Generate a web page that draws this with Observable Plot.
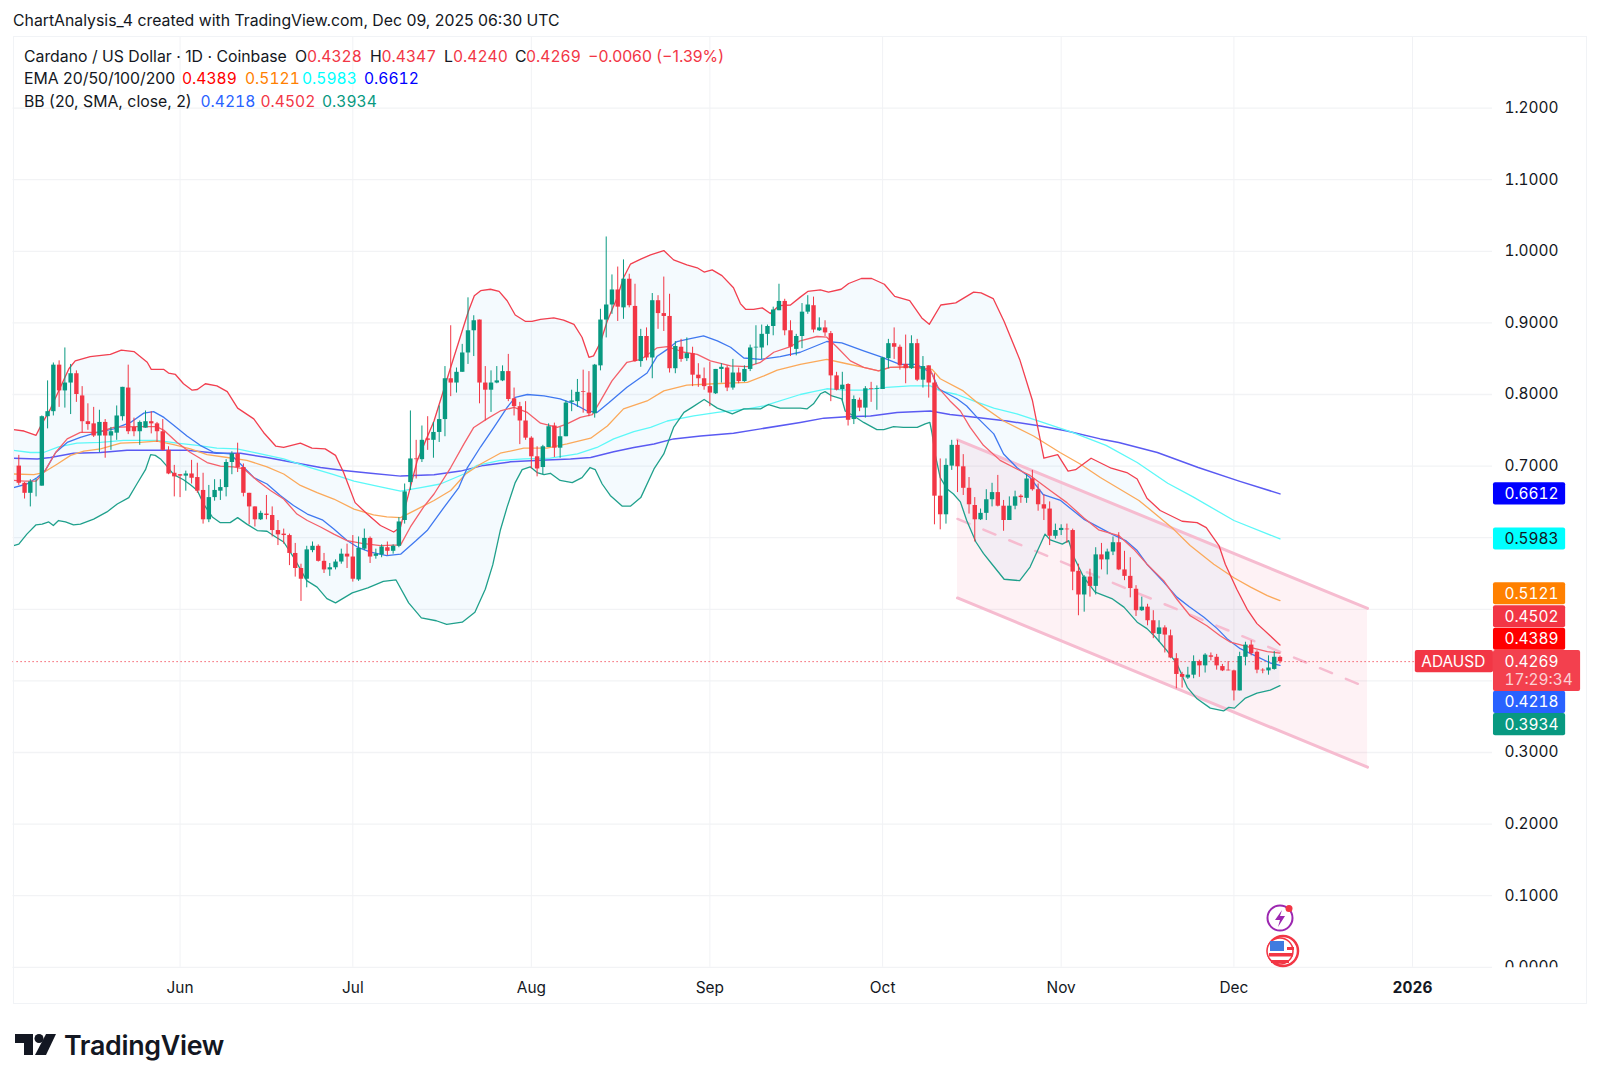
<!DOCTYPE html>
<html><head><meta charset="utf-8">
<script src="https://cdn.jsdelivr.net/npm/d3@7"></script>
<script src="https://cdn.jsdelivr.net/npm/@observablehq/plot@0.6"></script>
<style>
html,body{margin:0;padding:0;background:#fff;}
body{width:1600px;height:1084px;position:relative;overflow:hidden;font-family:Inter,"Noto Sans",sans-serif;color:#131722;}
.t{position:absolute;white-space:nowrap;font-size:15.8px;line-height:20px;}
.n{font-variant-numeric:tabular-nums;font-size:15.6px;}
#chart{position:absolute;left:0;top:36px;}
#pane{position:absolute;left:12.5px;top:35.8px;width:1574.5px;height:968px;border:1px solid #f1f3f6;box-sizing:border-box;pointer-events:none;}
</style></head><body>
<div id="chart"></div>
<div id="pane"></div>
<div id="texts"></div>
<svg style="position:absolute;left:1260px;top:900px" width="50" height="70" viewBox="0 0 50 70">
  <circle cx="20" cy="18" r="12.5" fill="#fff" stroke="#9c27b0" stroke-width="2"/>
  <path d="M22 10 L15 20 H20 L18 27 L25 16 H20 Z" fill="#9c27b0"/>
  <circle cx="29" cy="8.500" r="3.500" fill="#f23645"/>
  <circle cx="23" cy="51" r="15" fill="#fff" stroke="#f23645" stroke-width="2.500"/>
  <circle cx="20" cy="51" r="13" fill="#fff" stroke="#f23645" stroke-width="1.500"/>
  <path d="M9 53h24v3.500H9zM11 60h18v3H11z" fill="#f23645"/>
  <path d="M27 47h7v3h-7z" fill="#f23645"/>
  <rect x="10" y="41" width="14" height="10" fill="#3f7be0"/>
</svg>
<svg style="position:absolute;left:15px;top:1033px" width="42" height="23" viewBox="0 0 42 23">
  <path d="M0 1H18V22H9V10H0Z" fill="#131722"/>
  <circle cx="24" cy="5.500" r="4.500" fill="#131722"/>
  <path d="M31 1H41L31 22H20Z" fill="#131722"/>
</svg>
<script>
const opens = [
.700,.676,.662,.672,.672,.769,.776,.841,.805,.816,
.829,.798,.762,.759,.742,.761,.742,.746,.769,.809,
.754,.748,.753,.762,.759,.748,.722,.690,.688,.686,
.689,.684,.666,.625,.656,.665,.670,.705,.717,.698,
.662,.643,.625,.633,.631,.610,.605,.603,.578,.557,
.542,.582,.588,.567,.555,.558,.566,.577,.573,.541,
.584,.599,.574,.576,.586,.581,.588,.624,.677,.710,
.709,.738,.736,.747,.765,.822,.816,.831,.858,.889,
.904,.816,.806,.816,.819,.832,.794,.783,.763,.739,
.713,.698,.726,.756,.725,.741,.789,.790,.804,.802,
.773,.840,.904,.925,.946,.921,.961,.923,.846,.881,
.851,.931,.913,.909,.836,.866,.850,.857,.827,.822,
.811,.801,.835,.837,.809,.830,.818,.835,.865,.865,
.884,.895,.917,.930,.889,.863,.881,.915,.924,.889,
.893,.885,.826,.807,.814,.765,.792,.781,.808,.807,
.807,.850,.871,.866,.842,.836,.871,.820,.840,.816,
.658,.632,.700,.729,.699,.669,.645,.625,.634,.653,
.663,.644,.624,.644,.658,.655,.682,.667,.646,.640,
.602,.610,.612,.610,.553,.520,.545,.532,.576,.569,
.580,.593,.555,.546,.528,.498,.503,.484,.465,.474,
.463,.431,.409,.404,.408,.427,.421,.435,.433,.420,
.415,.414,.386,.433,.450,.440,.415,.414,.416,.4328];
const highs = [
.715,.677,.681,.682,.770,.819,.844,.847,.865,.842,
.833,.811,.787,.782,.778,.765,.754,.784,.810,.841,
.767,.763,.777,.776,.761,.765,.727,.701,.688,.693,
.708,.704,.690,.673,.681,.681,.709,.720,.732,.703,
.662,.643,.637,.659,.643,.624,.612,.605,.592,.563,
.588,.594,.590,.578,.564,.569,.584,.591,.603,.601,
.612,.601,.584,.590,.594,.590,.628,.675,.777,.736,
.756,.769,.761,.784,.839,.896,.837,.870,.935,.910,
.904,.839,.833,.839,.840,.856,.809,.789,.790,.741,
.727,.729,.759,.760,.754,.791,.806,.821,.834,.832,
.842,.919,1.020,.967,.978,.988,.968,.954,.891,.893,
.941,.938,.964,.940,.874,.877,.879,.866,.843,.837,
.845,.835,.843,.840,.849,.837,.840,.869,.896,.897,
.897,.922,.954,.933,.903,.884,.927,.938,.936,.907,
.903,.888,.831,.831,.815,.798,.795,.811,.817,.812,
.852,.877,.893,.869,.883,.882,.877,.853,.840,.829,
.710,.710,.736,.736,.716,.684,.656,.640,.667,.676,
.687,.652,.657,.665,.660,.688,.694,.675,.660,.650,
.619,.618,.619,.612,.563,.547,.556,.586,.592,.584,
.601,.607,.581,.572,.533,.517,.507,.498,.484,.477,
.471,.438,.412,.419,.435,.429,.438,.439,.437,.423,
.427,.415,.440,.454,.456,.442,.417,.435,.441,.4347];
const lows = [
.673,.654,.643,.657,.672,.752,.770,.782,.781,.772,
.789,.746,.750,.740,.719,.711,.722,.736,.763,.744,
.741,.729,.753,.745,.733,.721,.688,.657,.656,.665,
.675,.662,.619,.621,.651,.652,.657,.688,.691,.657,
.618,.615,.624,.625,.601,.589,.591,.561,.545,.511,
.530,.579,.566,.550,.546,.555,.563,.557,.538,.539,
.582,.564,.570,.572,.575,.577,.586,.619,.666,.682,
.705,.722,.711,.733,.741,.797,.802,.831,.842,.853,
.787,.763,.775,.815,.818,.790,.770,.730,.736,.696,
.685,.688,.726,.712,.711,.741,.776,.782,.774,.769,
.767,.833,.879,.912,.902,.905,.921,.845,.838,.847,
.822,.891,.888,.830,.829,.845,.846,.811,.810,.806,
.783,.800,.816,.804,.806,.815,.817,.832,.842,.849,
.868,.882,.917,.882,.853,.854,.864,.912,.886,.888,
.881,.790,.805,.791,.756,.758,.776,.767,.789,.778,
.807,.836,.849,.834,.815,.835,.818,.809,.795,.618,
.611,.619,.694,.663,.659,.633,.594,.624,.624,.643,
.643,.609,.624,.639,.648,.648,.665,.637,.624,.589,
.598,.603,.592,.526,.491,.496,.517,.520,.555,.548,
.575,.554,.540,.516,.490,.497,.477,.459,.454,.439,
.431,.389,.390,.402,.403,.405,.411,.428,.415,.413,
.414,.372,.386,.421,.435,.410,.410,.408,.415,.4240];
const closes = [
.676,.662,.678,.672,.769,.776,.841,.805,.816,.829,
.800,.762,.758,.742,.761,.742,.748,.770,.810,.748,
.748,.761,.762,.759,.748,.722,.689,.685,.686,.689,
.683,.665,.625,.656,.666,.670,.705,.717,.698,.662,
.643,.625,.634,.631,.610,.604,.603,.578,.557,.542,
.583,.588,.567,.555,.558,.566,.577,.573,.542,.585,
.599,.573,.577,.587,.581,.588,.622,.664,.710,.709,
.736,.736,.747,.765,.822,.816,.831,.858,.889,.903,
.816,.806,.816,.819,.832,.793,.783,.763,.739,.713,
.696,.727,.755,.725,.741,.788,.791,.803,.803,.773,
.841,.904,.925,.946,.922,.961,.924,.846,.881,.851,
.931,.913,.909,.836,.867,.849,.857,.827,.822,.811,
.802,.835,.838,.809,.830,.818,.835,.865,.866,.884,
.895,.918,.930,.889,.866,.881,.915,.925,.890,.893,
.886,.826,.806,.813,.764,.793,.781,.808,.807,.808,
.851,.871,.866,.840,.836,.871,.820,.839,.816,.658,
.632,.701,.729,.699,.669,.646,.625,.634,.653,.663,
.644,.624,.644,.657,.656,.682,.667,.646,.640,.602,
.610,.613,.611,.552,.520,.545,.532,.576,.569,.580,
.593,.555,.546,.529,.498,.503,.484,.466,.474,.464,
.432,.409,.405,.408,.427,.421,.436,.433,.421,.414,
.414,.386,.434,.450,.438,.415,.414,.418,.433,.4269];

// Indicator vertices: [days since 4 May 2025, price]
const bbUpper = [[-.9,.751],[.9,.749],[3,.743],[4,.759],[5.5,.780],[8.7,.836],[9.8,.847],[12.4,.853],[15.9,.856],[17.8,.862],[20,.860],[22.3,.845],[23,.835],[25.2,.835],[26,.830],[27.2,.828],[28.6,.815],[30.1,.806],[31,.807],[32.4,.815],[34.4,.812],[36.2,.804],[38,.781],[40.8,.766],[42.5,.747],[44.6,.728],[46,.726],[48.9,.732],[50.9,.725],[53.2,.724],[55,.715],[56.4,.691],[58.4,.649],[60.5,.633],[62.8,.617],[65.1,.608],[66.3,.615],[67.4,.652],[69.2,.708],[72.1,.763],[75,.838],[77,.889],[78.1,.917],[79.1,.938],[80.2,.945],[81.9,.947],[83.4,.944],[84.8,.931],[86.2,.911],[88,.902],[89.1,.902],[90.6,.905],[92.9,.907],[94.6,.904],[96.4,.898],[97.8,.880],[99,.852],[99.8,.854],[101,.873],[102.2,.903],[103.9,.935],[105,.963],[106.2,.982],[108,.989],[109.7,.995],[112,1.001],[113.7,.988],[116,.981],[117.8,.977],[119,.971],[120.4,.974],[122.1,.966],[124.1,.949],[125.3,.927],[126.2,.919],[127.6,.919],[129.1,.921],[130.5,.913],[132,.924],[134,.925],[135.7,.936],[137,.944],[139.2,.946],[140.6,.943],[142.8,.947],[144.1,.955],[146.3,.962],[148.1,.962],[150.3,.954],[152.1,.937],[154.7,.931],[156.8,.907],[158.1,.898],[160.1,.925],[162.7,.928],[165.8,.943],[167.1,.942],[169.2,.934],[171.1,.902],[173.8,.849],[176,.792],[178,.711],[180.4,.716],[182.2,.693],[183.5,.695],[186.2,.711],[189.7,.697],[192.4,.691],[194.2,.682],[195.9,.655],[198.2,.638],[202,.623],[204.6,.621],[206.2,.614],[208.4,.589],[209.5,.563],[211.5,.528],[213.3,.500],[215,.480],[217.3,.463],[219,.4502]];
const bbLower = [[-.9,.589],[0,.591],[1.4,.605],[3,.618],[4.05,.619],[5.2,.622],[6,.617],[6.9,.624],[8.1,.622],[9.5,.618],[10.7,.619],[13,.626],[15.3,.636],[17.1,.647],[19.1,.656],[20.5,.675],[22,.695],[22.9,.716],[23.7,.715],[24.6,.710],[25.6,.701],[26.9,.688],[28.6,.681],[29.8,.674],[31,.666],[32.1,.647],[33.6,.629],[35,.621],[36.7,.621],[38,.628],[39.6,.619],[41.4,.610],[43.1,.609],[44.6,.601],[46,.594],[47.7,.573],[50,.540],[51.8,.531],[53.5,.515],[55,.509],[57.9,.523],[60.6,.530],[63.3,.539],[65.5,.541],[67.7,.509],[69.9,.488],[72.5,.484],[74.3,.479],[77,.482],[79.2,.496],[81,.528],[82.3,.562],[83.6,.610],[84.8,.643],[86.2,.677],[87.4,.695],[88.8,.699],[90,.691],[91.2,.688],[92.3,.690],[94,.680],[96.1,.677],[97.8,.684],[99.2,.698],[100.1,.695],[101.3,.675],[102.7,.659],[104.8,.644],[106.2,.644],[108,.656],[110.3,.696],[112,.717],[113.7,.754],[115.5,.775],[116.9,.782],[119,.793],[121.3,.781],[123.9,.773],[125.9,.780],[128.8,.780],[130.2,.786],[132.2,.781],[135.7,.781],[136.9,.780],[138,.787],[139.2,.801],[140,.804],[141.2,.798],[142.9,.794],[143.5,.777],[145,.770],[146.7,.761],[149,.751],[150.2,.751],[151.9,.755],[153.6,.754],[156,.754],[157.4,.759],[158.2,.761],[158.6,.745],[159.1,.717],[160,.684],[161.2,.668],[162.3,.661],[163.5,.650],[164.6,.624],[166.2,.594],[167.5,.578],[168.9,.564],[171.1,.542],[173.8,.540],[175.6,.559],[177.4,.591],[178.2,.605],[179.1,.597],[181.2,.591],[182.3,.596],[183.2,.573],[184.9,.545],[186.9,.524],[189.8,.515],[191.9,.503],[194.2,.482],[195.9,.473],[197.4,.461],[199.4,.442],[201.1,.424],[202.9,.391],[204.6,.375],[206.9,.362],[209.2,.358],[210.1,.363],[211.1,.362],[213,.376],[215,.383],[217.3,.387],[219,.3934]];
const bbBasis = [[-.9,.670],[1.4,.675],[3.2,.684],[4.6,.694],[6.4,.719],[8.4,.733],[10.7,.740],[13.6,.747],[16.5,.752],[19.4,.761],[21.7,.774],[23.4,.776],[25.2,.768],[26.9,.757],[29.2,.742],[31.5,.729],[33.9,.719],[36.7,.717],[38.5,.703],[40.8,.684],[43.1,.675],[45.4,.659],[47.7,.645],[50.1,.633],[52.7,.625],[54.7,.612],[57,.596],[59,.586],[61.1,.580],[63.9,.575],[66.3,.577],[69,.596],[70.9,.610],[73.8,.642],[76.4,.670],[77.9,.698],[80.2,.727],[82.5,.754],[84.8,.782],[86.2,.796],[88.3,.800],[91.2,.798],[94,.794],[96.4,.787],[98.7,.777],[100.4,.775],[102.4,.788],[105.6,.810],[109.1,.830],[110.8,.853],[112.6,.863],[114.3,.874],[116,.877],[118.9,.882],[121.3,.875],[123.6,.866],[125.9,.851],[128.8,.849],[132.2,.853],[135.7,.859],[140.3,.874],[142.9,.872],[146.7,.861],[149.6,.853],[153,.842],[155.9,.842],[158.6,.829],[159.7,.808],[162.9,.794],[164.6,.784],[166.4,.768],[169.3,.745],[171,.717],[173.3,.698],[175.6,.684],[177.9,.660],[180.9,.652],[184.9,.626],[189.8,.605],[192.2,.596],[194.2,.582],[195.9,.563],[198.8,.538],[201.1,.517],[203.2,.504],[205.8,.489],[208.1,.473],[209.8,.459],[212.1,.445],[215,.434],[217.3,.425],[219,.4218]];
const ema20 = [[-.9,.680],[.9,.679],[3,.679],[4.6,.694],[6.4,.719],[8.4,.738],[10.7,.747],[13.6,.747],[16.5,.754],[20,.755],[24,.755],[25.2,.750],[27.5,.733],[29.8,.719],[32.7,.705],[35,.700],[37.3,.699],[39.1,.696],[41.4,.680],[43.7,.666],[46,.654],[48.3,.633],[50.1,.624],[52.4,.615],[54.7,.605],[57,.596],[59.6,.592],[62.8,.589],[66.3,.590],[68,.615],[70.3,.643],[72.1,.661],[75,.698],[77.3,.731],[79,.754],[81.3,.766],[83.6,.777],[86,.782],[88.3,.775],[90.6,.760],[93.5,.754],[95.2,.759],[97.5,.768],[99.6,.772],[101,.791],[103,.819],[105.6,.845],[108,.849],[110.8,.865],[112.6,.867],[115.5,.859],[117.8,.856],[120.1,.847],[123.6,.840],[126.5,.839],[128.8,.845],[131.1,.859],[134,.867],[135.7,.875],[138.6,.881],[140.3,.880],[142.1,.866],[144.4,.847],[146.7,.838],[149.3,.833],[151.3,.838],[154.8,.839],[158.3,.835],[159.4,.812],[161.7,.791],[163.5,.777],[165.2,.754],[167.5,.729],[170.4,.708],[173.3,.696],[175.6,.687],[179.1,.666],[182,.649],[184.9,.628],[187.5,.611],[191,.603],[193.6,.584],[195.9,.563],[198.8,.540],[201.1,.514],[203.4,.491],[206.3,.477],[208.6,.463],[210.4,.454],[213.3,.448],[216.8,.441],[219,.4389]];
const ema50 = [[-.9,.689],[2.6,.688],[4.3,.691],[6.7,.703],[9,.715],[11.3,.721],[14.2,.724],[17.7,.732],[21.1,.733],[24,.735],[26.9,.730],[29.8,.724],[32.7,.716],[36.2,.712],[39.6,.708],[43.1,.699],[46,.689],[48.9,.673],[51.8,.663],[54.7,.654],[58.2,.640],[61.6,.632],[63.9,.629],[66.3,.628],[69.2,.640],[72.1,.652],[75,.666],[77.6,.689],[80.2,.703],[83.6,.718],[87.7,.725],[91.7,.725],[95.2,.731],[99.3,.739],[102.2,.756],[105,.780],[109.1,.791],[112,.805],[116,.813],[120.7,.815],[126.5,.817],[129.4,.826],[131.7,.834],[135.7,.842],[140.3,.849],[143.2,.844],[146.7,.838],[149.3,.833],[151.3,.838],[155.9,.838],[158.6,.835],[160,.822],[164,.805],[166.4,.789],[171,.763],[176.2,.742],[180.8,.719],[184.3,.703],[187.8,.684],[194.5,.652],[197.1,.635],[200.5,.612],[203.4,.589],[207.5,.563],[211,.544],[213.9,.531],[216.8,.519],[219,.5121]];
const ema100 = [[-.9,.722],[2,.719],[4.3,.719],[6.9,.727],[10.1,.732],[14.2,.733],[18.2,.736],[24,.736],[27.5,.732],[31,.729],[34.4,.725],[37.9,.724],[41.4,.718],[46,.710],[50.6,.698],[54.7,.688],[58.2,.679],[62.2,.672],[66.3,.665],[69.8,.670],[73.2,.675],[77.3,.689],[79.6,.701],[83.6,.708],[87.7,.710],[92.3,.711],[97,.717],[100.4,.726],[103.3,.738],[106.8,.748],[109.7,.754],[112.6,.763],[117.2,.770],[121.3,.775],[126.5,.780],[129.4,.784],[135.7,.800],[138,.804],[140.3,.808],[143.8,.806],[146.7,.806],[150.7,.810],[154.8,.812],[158.3,.812],[160,.805],[162.9,.800],[165.8,.791],[169.3,.781],[173.3,.773],[177.4,.762],[182.6,.748],[188.8,.729],[194.2,.705],[199.5,.676],[203.9,.657],[211,.624],[219,.5983]];
const ema200 = [[-.9,.711],[3.2,.710],[5.5,.712],[9.5,.718],[14.2,.719],[18.8,.722],[24,.722],[29.2,.722],[34.4,.718],[38.5,.718],[43.1,.712],[47.7,.705],[52.4,.698],[56.4,.694],[61.1,.690],[66.3,.686],[72.1,.688],[76.7,.693],[80.7,.701],[85.4,.706],[90.6,.708],[95.8,.710],[99.3,.712],[103.3,.720],[106.8,.726],[110.3,.731],[113.7,.738],[118.4,.742],[124.1,.746],[128.8,.752],[135.7,.761],[139.8,.767],[143.8,.769],[147.9,.770],[152.5,.775],[158.3,.777],[161.7,.772],[166.4,.768],[171.6,.763],[177.4,.756],[182,.749],[187.8,.738],[191,.733],[197.7,.719],[204.8,.698],[211.9,.679],[219,.6612]];

const channelDays = [163, 234.2];
const channelTop = [.7367, .5013];
const channelMid = [.6262, .3904];
const channelBottom = [.5158, .2795];

const gridPrices = [0,.1,.2,.3,.4,.5,.6,.7,.8,.9,1,1.1,1.2];
const priceTicks = [0,.1,.2,.3,.7,.8,.9,1,1.1,1.2];
const monthTicks = ["2025-06-01","2025-07-01","2025-08-01","2025-09-01","2025-10-01","2025-11-01","2025-12-01"];
const monthNames = ["Jun","Jul","Aug","Sep","Oct","Nov","Dec"];
const yearTick = "2026-01-01";

const labelValues = ["0.6612","0.5983","0.5121","0.4502","0.4389","0.4218","0.3934"];
const labelAt = [.6612,.5983,.5218,.4896,.4583,.3700,.3389];
const labelFill = ["#0000ff","#00ffff","#ff8000","#f23645","#ff0000","#2962ff","#089981"];
const labelInk = ["#fff","#131722","#fff","#fff","#fff","#fff","#fff"];

const RED="#f23645", GREEN="#089981";
const day = d => new Date(Date.UTC(2025,4,4) + d*864e5);
const candles = opens.map((o,i)=>({date:day(i),o,h:highs[i],l:lows[i],c:closes[i],col:closes[i]>=o?GREEN:RED}));
const pts = a => a.map(([d,v])=>({date:day(d),d,v}));
// Fill between the bands: both lines evaluated at the union of their vertices
const bandDays = [...new Set([...bbUpper,...bbLower].map(p=>p[0]))].sort((a,b)=>a-b);
const upAt = d3.scaleLinear(bbUpper.map(p=>p[0]),bbUpper.map(p=>p[1]));
const loAt = d3.scaleLinear(bbLower.map(p=>p[0]),bbLower.map(p=>p[1]));
const band = bandDays.map(d=>({date:day(d),u:upAt(d),l:loAt(d)}));
const chan = channelDays.map((d,i)=>({date:day(d),t:channelTop[i],m:channelMid[i],b:channelBottom[i]}));
const xL = day(-1.007), xAxis = day(255.9), boxA = day(256.07), boxB = day(268.6), boxC = day(271.2), tagA = day(242.5);
const line = (a,stroke,w=1.3)=>Plot.line(pts(a),{x:"date",y:"v",stroke,strokeWidth:w});
const labels = labelValues.map((t,i)=>({t,at:labelAt[i],f:labelFill[i],k:labelInk[i]}));
const lastP = .4269, H = .0154;

const chart = Plot.plot({
  width:1600,height:968,marginTop:0,marginBottom:37.2,marginLeft:12.5,marginRight:108,
  x:{type:"utc",domain:[xL,xAxis]},y:{domain:[0,1.3]},
  style:{fontFamily:"Inter,'Noto Sans',sans-serif",fontSize:"15.4px",color:"#131722",background:"transparent",overflow:"visible",fontVariantNumeric:"tabular-nums"},
  marks:[
    Plot.ruleY(gridPrices,{x1:xL,x2:xAxis,y:d=>d,stroke:"#f2f3f5",strokeWidth:1.3}),
    Plot.ruleX(monthTicks.concat(yearTick),{x:d=>new Date(d),y1:0,y2:1.3,stroke:"#f1f2f5",strokeWidth:1}),
    Plot.areaY(band,{x:"date",y1:"l",y2:"u",fill:"#2196f3",fillOpacity:.05}),
    Plot.areaY(chan,{x:"date",y1:"b",y2:"t",fill:"#f7527f",fillOpacity:.075}),
    Plot.line(chan,{x:"date",y:"t",stroke:"#f6bcd0",strokeWidth:3}),
    Plot.line(chan,{x:"date",y:"b",stroke:"#f6bcd0",strokeWidth:3}),
    Plot.line(chan,{x:"date",y:"m",stroke:"#f6bcd0",strokeWidth:2.5,strokeDasharray:"13,15"}),
    line(ema200,"#5a5af2",1.5),
    line(ema100,"#5cf8f8"),
    line(ema50,"#fba95a"),
    line(bbBasis,"#3f78f0"),
    line(ema20,"#f4606a"),
    line(bbUpper,"#f23f4f"),
    line(bbLower,"#1fa08c"),
    Plot.ruleY([lastP],{x1:xL,x2:tagA,stroke:RED,strokeWidth:1,strokeDasharray:"1.200,2.800"}),
    Plot.ruleX(candles,{x:"date",y1:"l",y2:"h",stroke:"col",strokeWidth:1}),
    Plot.ruleX(candles,{x:"date",y1:"o",y2:"c",stroke:"col",strokeWidth:4.4}),
    Plot.axisX(monthTicks.map(d=>new Date(d)),{tickSize:0,tickPadding:15,tickFormat:(d,i)=>monthNames[i],label:null}),
    Plot.axisX([new Date(yearTick)],{tickSize:0,tickPadding:15,tickFormat:()=>"2026",label:null,fontWeight:"bold"}),
    Plot.axisY(priceTicks,{anchor:"right",tickSize:0,tickPadding:12,tickFormat:d3.format(".4f"),label:null}),
    Plot.rect([0],{x1:boxA,x2:boxC,y1:-.0006,y2:-.03,fill:"#fff"}),
    Plot.rect(labels,{x1:boxA,x2:boxB,y1:d=>d.at-H,y2:d=>d.at+H,fill:"f",rx:2}),
    Plot.text(labels,{x:boxA,y:"at",text:"t",fill:"k",dx:11,textAnchor:"start"}),
    Plot.rect([lastP],{x1:boxA,x2:boxC,y1:d=>d+H,y2:d=>d-H-.0262,fill:RED,rx:2,fillOpacity:.95}),
    Plot.text([lastP],{x:boxA,y:d=>d,text:d=>d.toFixed(4),fill:"#fff",dx:11,textAnchor:"start"}),
    Plot.text([lastP],{x:boxA,y:d=>d-.0262,text:()=>"17:29:34",fill:"#fbd0d5",dx:11,textAnchor:"start"}),
    Plot.rect([lastP],{x1:tagA,x2:boxA,y1:d=>d+H,y2:d=>d-H,fill:RED,rx:2}),
    Plot.text([lastP],{x:tagA,y:d=>d,text:()=>"ADAUSD",fill:"#fff",dx:6,textAnchor:"start"})
  ]
});
document.getElementById("chart").append(chart);

// Header, legend and footer text
const ink="#131722";
const pieces = [
 ["ChartAnalysis_4 created with TradingView.com, Dec 09, 2025 06:30 UTC",ink,13,11],
 ["Cardano / US Dollar · 1D · Coinbase",ink,24,46.500],
 ["O",ink,295,46.500],["0.4328",RED,307,46.500],["H",ink,370,46.500],["0.4347",RED,381.500,46.500],
 ["L",ink,444,46.500],["0.4240",RED,453,46.500],["C",ink,515,46.500],["0.4269",RED,526,46.500],
 ["−0.0060 (−1.39%)",RED,588,46.500],
 ["EMA 20/50/100/200",ink,24,69],["0.4389","#ff0000",182,69],["0.5121","#ff8000",245,69],["0.5983","#00ffff",302,69],["0.6612","#0000ff",364,69],
 ["BB (20, SMA, close, 2)",ink,24,91.500],["0.4218","#2962ff",200.500,91.500],["0.4502",RED,260.500,91.500],["0.3934",GREEN,322,91.500]
];
const box=document.getElementById("texts");
for(const [t,c,x,y] of pieces){
  const s=document.createElement("div");s.className=/^0\.\d{4}$/.test(t)?"t n":"t";s.textContent=t;
  s.style.cssText=`left:${x}px;top:${y}px;color:${c}`;box.append(s);
}
const logo=document.createElement("div");logo.className="t";logo.textContent="TradingView";
logo.style.cssText=`left:64px;top:1028px;font-size:26.8px;line-height:34px;font-weight:600;letter-spacing:-.3px;color:${ink}`;box.append(logo);
</script>
</body></html>
